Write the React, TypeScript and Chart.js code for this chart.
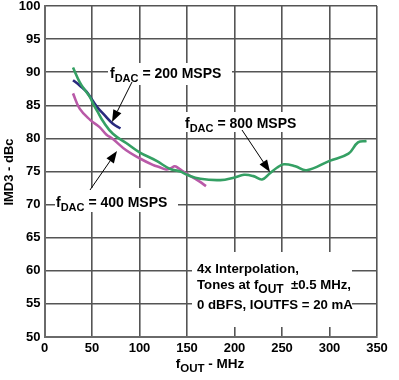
import React, { useEffect, useRef } from "react";
import { Chart, registerables } from "chart.js";

Chart.register(...registerables);

const xTicks = [0, 50, 100, 150, 200, 250, 300, 350];
const yTicks = [50, 55, 60, 65, 70, 75, 80, 85, 90, 95, 100];

const dac800X = [30, 37, 41, 48, 51, 56, 62, 72, 86, 100, 118, 132, 143, 150, 164, 185, 200, 210, 220, 229, 237, 245, 252, 264, 276, 300, 320, 330, 339];
const dac800Y = [90.7, 88.5, 87.6, 86.2, 85.3, 84.0, 82.5, 80.7, 79.3, 77.9, 76.6, 75.4, 75.0, 74.5, 73.9, 73.7, 74.1, 74.5, 74.3, 73.8, 74.7, 75.6, 76.1, 75.8, 75.2, 76.6, 77.7, 79.4, 79.6];

const dac200X = [30, 37, 44, 48, 55, 62, 72, 80];
const dac200Y = [88.8, 88.0, 87.1, 86.3, 84.8, 83.7, 82.2, 81.5];

const dac400X = [30, 37, 48, 58, 65, 72, 86, 100, 114, 122, 128, 133, 137, 141, 145, 155, 163, 170];
const dac400Y = [86.8, 84.5, 82.8, 81.7, 80.6, 79.9, 78.2, 77.0, 76.0, 75.6, 75.3, 75.5, 75.8, 75.5, 75.1, 74.2, 73.5, 72.8];

const GREEN = "#35a064";
const BLUE = "#2a2a7e";
const MAGENTA = "#b95aa8";

type Seg = { t: string; sub?: boolean };

function richText(ctx: CanvasRenderingContext2D, segs: Seg[], x: number, y: number, size: number, subSize: number, weight = "bold") {
  let cx = x;
  for (const s of segs) {
    ctx.font = `${weight} ${s.sub ? subSize : size}px "Liberation Sans", Arial, sans-serif`;
    ctx.fillText(s.t, cx, s.sub ? y + 4 : y);
    cx += ctx.measureText(s.t).width;
  }
  return cx - x;
}

function measure(ctx: CanvasRenderingContext2D, segs: Seg[], size: number, subSize: number) {
  let w = 0;
  for (const s of segs) {
    ctx.font = `bold ${s.sub ? subSize : size}px "Liberation Sans", Arial, sans-serif`;
    w += ctx.measureText(s.t).width;
  }
  return w;
}

function arrow(ctx: CanvasRenderingContext2D, x1: number, y1: number, x2: number, y2: number) {
  const ang = Math.atan2(y2 - y1, x2 - x1);
  const L = 12, W = 4.5;
  const bx = x2 - L * Math.cos(ang), by = y2 - L * Math.sin(ang);
  ctx.strokeStyle = "#000";
  ctx.lineWidth = 1;
  ctx.beginPath();
  ctx.moveTo(x1, y1);
  ctx.lineTo(bx, by);
  ctx.stroke();
  ctx.fillStyle = "#000";
  ctx.beginPath();
  ctx.moveTo(x2, y2);
  ctx.lineTo(bx + W * Math.sin(ang), by - W * Math.cos(ang));
  ctx.lineTo(bx - W * Math.sin(ang), by + W * Math.cos(ang));
  ctx.closePath();
  ctx.fill();
}

const annot = {
  id: "annot",
  afterDatasetsDraw(chart: any) {
    const ctx: CanvasRenderingContext2D = chart.ctx;
    ctx.save();
    ctx.fillStyle = "#fff";
    ctx.fillRect(108, 63, 124, 22);
    ctx.fillRect(55, 188, 123, 24);
    ctx.fillRect(183, 112, 113, 20);
    ctx.fillRect(192, 252, 160, 75);

    ctx.fillStyle = "#000";
    ctx.textBaseline = "alphabetic";
    ctx.textAlign = "left";
    richText(ctx, [{ t: "f" }, { t: "DAC", sub: true }, { t: " = 200 MSPS" }], 110, 78, 14, 11);
    richText(ctx, [{ t: "f" }, { t: "DAC", sub: true }, { t: " = 800 MSPS" }], 185, 128, 14, 11);
    richText(ctx, [{ t: "f" }, { t: "DAC", sub: true }, { t: " = 400 MSPS" }], 56, 206.5, 14, 11);

    richText(ctx, [{ t: "4x Interpolation," }], 197, 273, 13.2, 11);
    richText(ctx, [{ t: "Tones at f" }, { t: "OUT", sub: true }, { t: "  \u00b10.5 MHz," }], 197, 289, 13.2, 12);
    richText(ctx, [{ t: "0 dBFS, IOUTFS = 20 mA" }], 197, 309, 13.2, 11);

    arrow(ctx, 132, 82, 112, 122);
    arrow(ctx, 90, 190, 117, 151);
    arrow(ctx, 242, 130, 270, 172);

    // axis titles
    ctx.fillStyle = "#000";
    const xt: Seg[] = [{ t: "f" }, { t: "OUT", sub: true }, { t: " - MHz" }];
    const w = measure(ctx, xt, 13.5, 11.5);
    richText(ctx, xt, 210 - w / 2, 368, 13.5, 11.5);

    ctx.translate(12.5, 172);
    ctx.rotate(-Math.PI / 2);
    ctx.textAlign = "center";
    ctx.font = 'bold 13px "Liberation Sans", Arial, sans-serif';
    ctx.fillText("IMD3 - dBc", 0, 0);
    ctx.restore();
  },
};

function pts(xs: number[], ys: number[]) {
  return xs.map((x, i) => ({ x, y: ys[i] }));
}

export default function App() {
  const ref = useRef<HTMLCanvasElement>(null);
  useEffect(() => {
    document.body.style.margin = "0";
    const tickFont = { family: '"Liberation Sans", Arial, sans-serif', size: 13, weight: "bold" as const };
    const chart = new Chart(ref.current!, {
      type: "line",
      data: {
        datasets: [
          { data: pts(dac800X, dac800Y), borderColor: GREEN, borderWidth: 2.6, pointRadius: 0, tension: 0.4, fill: false },
          { data: pts(dac400X, dac400Y), borderColor: MAGENTA, borderWidth: 2.6, pointRadius: 0, tension: 0.4, fill: false },
          { data: pts(dac200X, dac200Y), borderColor: BLUE, borderWidth: 2.6, pointRadius: 0, tension: 0.4, fill: false },
        ],
      },
      options: {
        animation: false,
        responsive: false,
        devicePixelRatio: 1,
        layout: { padding: { top: 6, right: 22, left: 0, bottom: 0 } },
        plugins: { legend: { display: false }, tooltip: { enabled: false } },
        scales: {
          x: {
            type: "linear",
            min: 0,
            max: 350,
            afterBuildTicks: (s: any) => { s.ticks = xTicks.map((v) => ({ value: v })); },
            afterFit: (s: any) => { s.height = 43; s.paddingLeft = 0; s.paddingRight = 0; },
            ticks: { color: "#000", font: tickFont, padding: 4, maxRotation: 0, autoSkip: false },
            grid: { color: "#555555", lineWidth: 1.6, drawTicks: false },
            border: { color: "#6a6a6a", width: 2 },
          },
          y: {
            type: "linear",
            min: 50,
            max: 100,
            afterBuildTicks: (s: any) => { s.ticks = yTicks.map((v) => ({ value: v })); },
            afterFit: (s: any) => { s.width = 44.5; s.paddingTop = 0; s.paddingBottom = 0; },
            ticks: { color: "#000", font: tickFont, padding: 4, autoSkip: false },
            grid: { color: "#555555", lineWidth: 1.6, drawTicks: false },
            border: { color: "#6a6a6a", width: 2 },
          },
        },
      },
      plugins: [annot],
    });
    return () => chart.destroy();
  }, []);
  return <canvas ref={ref} width={399} height={380} style={{ display: "block" }} />;
}
